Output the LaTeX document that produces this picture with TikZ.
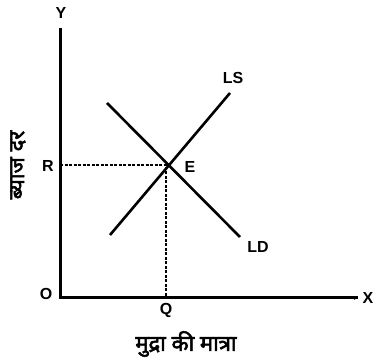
\documentclass[tikz,border=0pt]{standalone}
\usepackage{fontspec}
\setmainfont{Liberation Sans}
\newfontfamily\devfont[Script=Devanagari,FakeBold=2.5]{Noto Sans}
\usetikzlibrary{arrows.meta}
\begin{document}
\begin{tikzpicture}[x=1pt,y=-1pt,
  axis/.style={line width=3pt},
  curve/.style={line width=2.6pt},
  guide/.style={line width=1.5pt,dash pattern=on 3pt off 1.5pt},
  lbl/.style={font=\bfseries\fontsize{16}{16}\selectfont,inner sep=0pt},
  dev/.style={font=\devfont\fontsize{22}{22}\selectfont,inner sep=0pt}]
\useasboundingbox (0,0) rectangle (375,363);
\coordinate (O) at (60,298);
\coordinate (Ytop) at (60,28);
\coordinate (Xend) at (358,298);
\coordinate (E) at (166,165);
\coordinate (Rp) at (60,165);
\coordinate (Qp) at (166,298);
\coordinate (LSa) at (110,235);
\coordinate (LSb) at (230,93);
\coordinate (LDa) at (107,103);
\coordinate (LDb) at (240,237);
\draw[axis] (Ytop) -- (O) -- (Xend);
\draw[line width=1pt,-{Latex[length=4pt,width=4pt]}] (350,298) -- (Xend);
\draw[guide] (Rp) -- (E) -- (Qp);
\draw[curve] (LSa) -- (LSb);
\draw[curve] (LDa) -- (LDb);
\node[lbl] (ylab) at (61,13) {Y};
\node[lbl] (xlab) at (368,298) {X};
\node[lbl] (olab) at (46,294) {O};
\node[lbl] (qlab) at (166,310) {Q};
\node[lbl] (rlab) at (48,166) {R};
\node[lbl] (elab) at (190,167) {E};
\node[lbl] (lslab) at (233,78) {LS};
\node[lbl] (ldlab) at (258,247) {LD};
\node[dev,rotate=90] (ytitle) at (18,165) {ब्याज दर};
\node[dev] (xtitle) at (186,344) {मुद्रा की मात्रा};
\end{tikzpicture}
\end{document}
